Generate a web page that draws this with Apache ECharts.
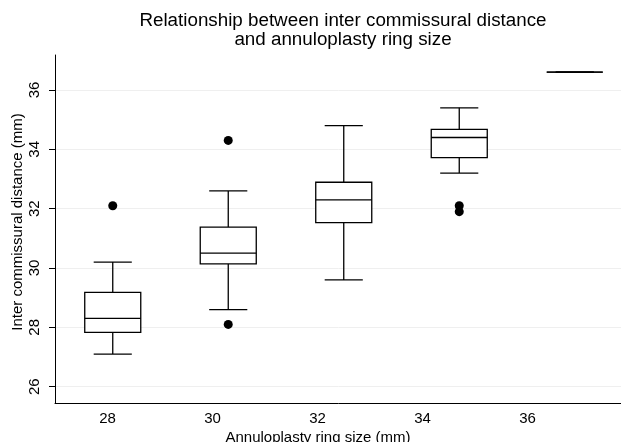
<!DOCTYPE html>
<html>
<head>
<meta charset="utf-8">
<script src="https://cdn.jsdelivr.net/npm/echarts@6/dist/echarts.min.js"></script>
<style>
html,body{margin:0;padding:0;background:#fff;}
#chart{width:621px;height:442px;}
</style>
</head>
<body>
<div id="chart"></div>
<script>
// ---- data ----
const ringSizes = ['28', '30', '32', '34', '36'];
const whiskerLow  = [27.1, 28.6, 29.6, 33.2, 36.6];
const quartile1   = [27.83, 30.14, 31.53, 33.72, 36.6];
const medians     = [28.3, 30.5, 32.3, 34.4, 36.6];
const quartile3   = [29.18, 31.38, 32.89, 34.67, 36.6];
const whiskerHigh = [30.2, 32.6, 34.8, 35.4, 36.6];
const outlierRing  = ['28', '30', '30', '34', '34'];
const outlierValue = [32.1, 34.3, 28.1, 32.1, 31.9];
const xTickLabels = [28, 30, 32, 34, 36];
const yTickLabels = [26, 28, 30, 32, 34, 36];

const boxData = ringSizes.map((r, i) => [i, whiskerLow[i], quartile1[i], medians[i], quartile3[i], whiskerHigh[i]]);
const outlierData = outlierRing.map((r, i) => [ringSizes.indexOf(r), outlierValue[i]]);

const chart = echarts.init(document.getElementById('chart'), null, {renderer: 'canvas'});
const FONT = '"Liberation Sans", Arial, sans-serif';
const INK = '#000';

function renderBox(params, api) {
  const idx = api.value(0);
  const band = api.size([1, 0])[0];
  const bw = band * 0.485, cw = band * 0.33;
  const pLo = api.coord([idx, api.value(1)]);
  const pQ1 = api.coord([idx, api.value(2)]);
  const pMed = api.coord([idx, api.value(3)]);
  const pQ3 = api.coord([idx, api.value(4)]);
  const pHi = api.coord([idx, api.value(5)]);
  const cx = pMed[0];
  const ls = {stroke: INK, lineWidth: 1.3, fill: null};
  return {
    type: 'group',
    children: [
      {type: 'line', shape: {x1: cx, y1: pQ1[1], x2: cx, y2: pLo[1]}, style: ls},
      {type: 'line', shape: {x1: cx, y1: pQ3[1], x2: cx, y2: pHi[1]}, style: ls},
      {type: 'line', shape: {x1: cx - cw / 2, y1: pLo[1], x2: cx + cw / 2, y2: pLo[1]}, style: ls},
      {type: 'line', shape: {x1: cx - cw / 2, y1: pHi[1], x2: cx + cw / 2, y2: pHi[1]}, style: ls},
      {type: 'rect', shape: {x: cx - bw / 2, y: pQ3[1], width: bw, height: pQ1[1] - pQ3[1]},
        style: {stroke: INK, lineWidth: 1.3, fill: '#fff'}},
      {type: 'line', shape: {x1: cx - bw / 2, y1: pMed[1], x2: cx + bw / 2, y2: pMed[1]}, style: ls}
    ]
  };
}

chart.setOption({
  animation: false,
  backgroundColor: '#fff',
  title: {
    text: 'Relationship between inter commissural distance\nand annuloplasty ring size',
    left: 338,
    top: 6,
    textAlign: 'center',
    textStyle: {fontFamily: FONT, fontSize: 18.8, fontWeight: 'normal', color: INK, lineHeight: 19}
  },
  grid: {left: 55, top: 55, bottom: 39, right: -11.5, containLabel: false, outerBoundsMode: 'none'},
  xAxis: [
    {
      type: 'category',
      data: ringSizes,
      boundaryGap: true,
      axisLine: {show: true, lineStyle: {color: INK, width: 1}},
      axisTick: {show: false},
      axisLabel: {show: false},
      splitLine: {show: false}
    },
    {
      type: 'value',
      position: 'bottom',
      min: 27,
      max: 38,
      axisLine: {show: false},
      axisTick: {show: false},
      splitLine: {show: false},
      axisLabel: {
        customValues: xTickLabels,
        margin: 8,
        fontFamily: FONT, fontSize: 15, color: INK
      },
      name: 'Annuloplasty ring size (mm)',
      nameLocation: 'middle',
      nameGap: 27.5,
      nameMoveOverlap: false,
      nameTextStyle: {fontFamily: FONT, fontSize: 15, color: INK, padding: [0, 51.5, 0, 0]}
    }
  ],
  yAxis: {
    type: 'value',
    min: 25.45,
    max: 37.18,
    axisLine: {show: true, lineStyle: {color: INK, width: 1}},
    axisTick: {show: true, customValues: yTickLabels, length: 6, lineStyle: {color: INK}},
    axisLabel: {
      customValues: yTickLabels,
      rotate: 90,
      margin: 13,
      fontFamily: FONT, fontSize: 15, color: INK
    },
    splitLine: {show: true, lineStyle: {color: '#efefef', width: 1}},
    name: 'Inter commissural distance (mm)',
    nameLocation: 'middle',
    nameGap: 30,
    nameMoveOverlap: false,
    nameTextStyle: {fontFamily: FONT, fontSize: 15, color: INK, padding: [0, 0, 0, 14]}
  },
  series: [
    {
      type: 'custom',
      xAxisIndex: 0,
      yAxisIndex: 0,
      renderItem: renderBox,
      encode: {x: 0, y: [1, 2, 3, 4, 5]},
      data: boxData,
      clip: false,
      z: 3
    },
    {
      type: 'scatter',
      xAxisIndex: 0,
      yAxisIndex: 0,
      symbol: 'circle',
      symbolSize: 9,
      itemStyle: {color: INK, opacity: 1},
      data: outlierData,
      z: 4
    }
  ]
});
</script>
</body>
</html>
